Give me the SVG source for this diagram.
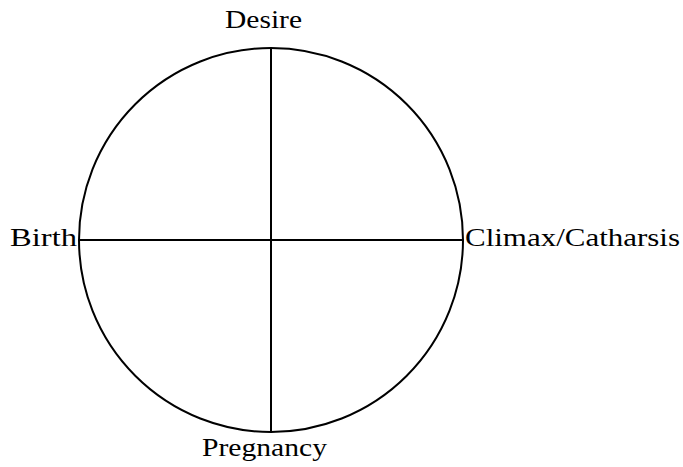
<svg xmlns="http://www.w3.org/2000/svg" width="683" height="467" viewBox="0 0 683 467">
<style>
.s{fill:none;stroke:#000;stroke-width:2}
text{font-family:"Liberation Serif",serif;font-size:25px;fill:#000}
</style>
<rect width="683" height="467" fill="#fff"/>
<g id="circle"><circle class="s" cx="271" cy="240" r="192"/></g>
<g id="connectors">
<line class="s" x1="271" y1="48" x2="271" y2="432"/>
<line class="s" x1="79" y1="240" x2="463" y2="240"/>
</g>
<g id="desire"><text x="225" y="28" textLength="77" lengthAdjust="spacingAndGlyphs">Desire</text></g>
<g id="birth"><text x="10" y="246" textLength="67" lengthAdjust="spacingAndGlyphs">Birth</text></g>
<g id="climax"><text x="465" y="246" textLength="215" lengthAdjust="spacingAndGlyphs">Climax/Catharsis</text></g>
<g id="pregnancy"><text x="202" y="456" textLength="125" lengthAdjust="spacingAndGlyphs">Pregnancy</text></g>
</svg>
